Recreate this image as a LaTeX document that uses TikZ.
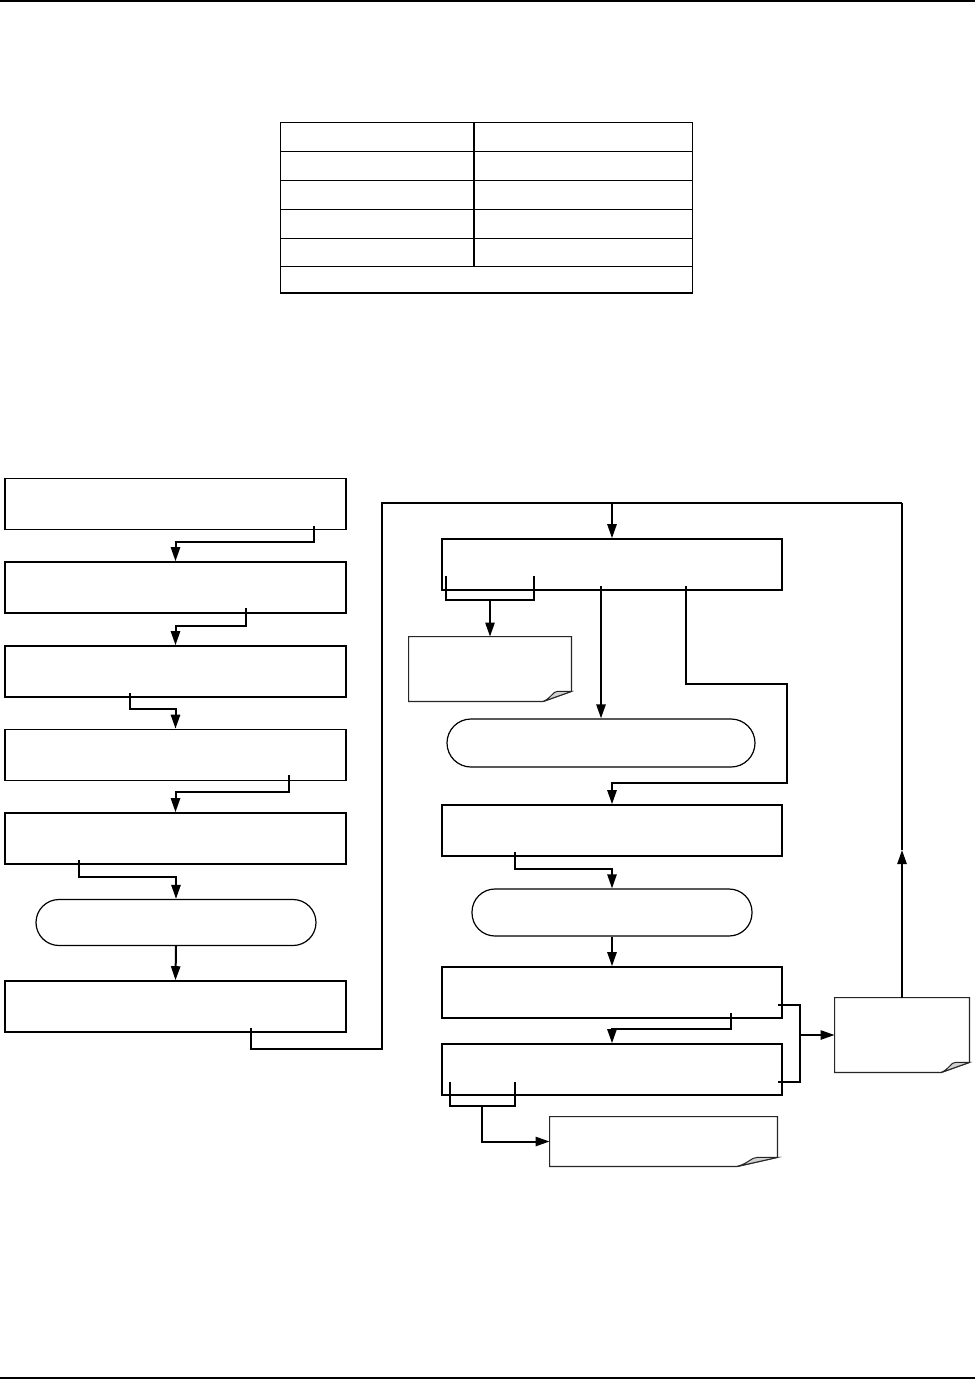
\documentclass[tikz,border=0pt]{standalone}
\usetikzlibrary{arrows.meta,calc}
\begin{document}
\begin{tikzpicture}[x=0.5pt,y=-0.5pt,
  box/.style={draw,line width=0.8pt,rectangle,fill=white,inner sep=0pt,minimum width=170.5pt,minimum height=25.5pt},
  term/.style={draw,line width=0.6pt,rectangle,rounded corners=11.5pt,fill=white,inner sep=0pt,minimum height=23pt},
  docnode/.style={rectangle,draw=none,inner sep=0pt},
  docline/.style={draw=black!85,line width=0.6pt,fill=white},
  foldfill/.style={draw=black!85,line width=0.5pt,fill=black!18},
  conn/.style={line width=1pt},
  arr/.style={line width=1pt,-{Triangle[length=7pt,width=4.6pt]}},
  rule/.style={line width=1pt},
  tab/.style={line width=0.9pt}]
\useasboundingbox (0,0) rectangle (975,1379);
% page rules
\draw[rule] (0,1.5) -- (975,1.5);
\draw[rule] (0,1377.5) -- (975,1377.5);
% table
\draw[tab] (280.5,122.5) rectangle (692.5,293);
\foreach \yy in {151.5,180.5,209.5,238.5,266.5} \draw[tab] (280.5,\yy) -- (692.5,\yy);
\draw[tab] (474,122.5) -- (474,266.5);
% left column
\node[box] (B1) at (175.5,504) {};
\node[box] (B2) at (175.5,587.5) {};
\node[box] (B3) at (175.5,671.5) {};
\node[box] (B4) at (175.5,755) {};
\node[box] (B5) at (175.5,838.5) {};
\node[term,minimum width=140pt] (T1) at (176,922.5) {};
\node[box] (B7) at (175.5,1006.5) {};
% right column
\node[box,minimum width=170pt] (R1) at (612,564.5) {};
\node[term,minimum width=154pt,minimum height=24pt,rounded corners=12pt] (T2) at (601,743) {};
\node[box,minimum width=170pt] (R2) at (612,830.5) {};
\node[term,minimum width=140pt,minimum height=23.5pt] (T3) at (612,912.5) {};
\node[box,minimum width=170pt] (R3) at (612,992.5) {};
\node[box,minimum width=170pt] (R4) at (612,1069.5) {};
% documents
\node[docnode,minimum width=81pt,minimum height=32pt] (D1) at (490,669) {};
\node[docnode,minimum width=113.5pt,minimum height=24.5pt] (D2) at (663.5,1141.5) {};
\node[docnode,minimum width=67pt,minimum height=37pt] (D3) at (902,1035) {};
\foreach \d/\fx/\fy in {D1/28/10,D2/40/9,D3/28/10}{
  \draw[docline] (\d.north west) -- (\d.north east) -- ([yshift=\fy*0.5pt]\d.south east)
     -- ([xshift=-\fx*0.5pt]\d.south east) -- (\d.south west) -- cycle;
  \draw[foldfill] ([xshift=-\fx*0.5pt]\d.south east) .. controls ([xshift=-\fx*0.35pt,yshift=\fy*0.2pt]\d.south east) and ([xshift=-\fx*0.33pt,yshift=\fy*0.5pt]\d.south east) .. ([xshift=-\fx*0.25pt,yshift=\fy*0.5pt]\d.south east) -- ([yshift=\fy*0.5pt]\d.south east) -- cycle;
}
% left connectors
\draw[arr] ([xshift=69.25pt,yshift=2pt]B1.south) -- ++(0,16) -| (B2.north);
\draw[arr] ([xshift=35.25pt,yshift=3pt]B2.south) -- ++(0,18) -| (B3.north);
\draw[arr] ([xshift=-22.75pt,yshift=2.5pt]B3.south) -- ++(0,16) -| (B4.north);
\draw[arr] ([xshift=56.75pt,yshift=3pt]B4.south) -- ++(0,17) -| (B5.north);
\draw[arr] ([xshift=-48.25pt,yshift=2.5pt]B5.south) -- ++(0,17) -| (T1.north);
\draw[arr] (T1.south) -- (B7.north);
% bus
\coordinate (busL) at (382,502.5);
\coordinate (busR) at (902,502.5);
\coordinate (busM) at (612,502.5);
\coordinate (upmid) at (902,850);
\draw[conn] ([xshift=37.75pt,yshift=2.5pt]B7.south) |- (382,1049) -- (busL) -- (busR);
\draw[arr] (busM) -- (R1.north);
\draw[arr] (D3.north) -- (upmid);
\draw[conn] (upmid) -- (busR);
% R1 outputs
\draw[conn] ([xshift=-83pt,yshift=7.5pt]R1.south) -- ++(0,24) -- ++(88,0) -- ++(0,-24);
\coordinate (br1) at (490,598.5);
\draw[arr] (br1) -- (D1.north);
\draw[arr] ([xshift=-5.5pt,yshift=2.5pt]R1.south) -- (T2.north);
\draw[arr] ([xshift=37pt,yshift=2.5pt]R1.south) |- (787,684) |- (612,783) -- (R2.north);
% lower right chain
\draw[arr] ([xshift=-48.5pt,yshift=2.5pt]R2.south) -- ++(0,17) -| (T3.north);
\draw[arr] (T3.south) -- (R3.north);
\draw[arr] ([xshift=59.5pt,yshift=3pt]R3.south) -- ++(0,16) -| (R4.north);
% R4 bracket to D2
\draw[conn] ([xshift=-81pt,yshift=7pt]R4.south) -- ++(0,24) -- ++(65,0) -- ++(0,-24);
\coordinate (br4) at (482,1105);
\draw[arr] (br4) |- (D2.west);
% right bracket to D3
\draw[conn] ([xshift=-2.5pt,yshift=-6.25pt]R3.east) -- (800,1005) -- (800,1082) -- ([xshift=-2.5pt,yshift=-6.25pt]R4.east);
\coordinate (rb) at (800,1035);
\draw[arr] (rb) -- (D3.west);
\end{tikzpicture}
\end{document}
